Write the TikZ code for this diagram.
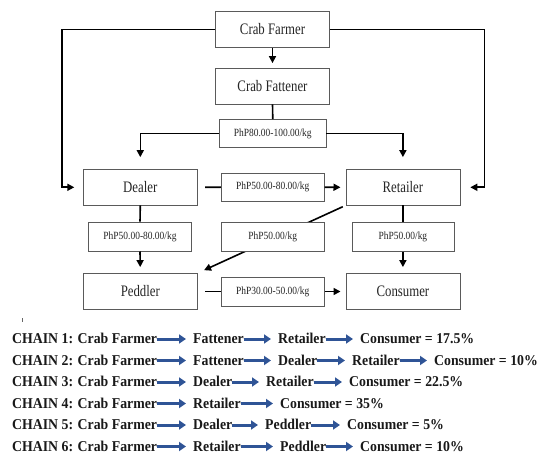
\documentclass[tikz,border=0pt]{standalone}
\usepackage{fontspec}
\setmainfont{Liberation Serif}
\newfontfamily\boxfont[FakeStretch=0.8]{Liberation Serif}
\newfontfamily\pricefont[FakeStretch=0.86]{Liberation Serif}
\newfontfamily\chainfont[FakeStretch=0.92]{Liberation Serif}
\usetikzlibrary{arrows.meta,calc}
\definecolor{boxgray}{RGB}{90,90,90}
\definecolor{chainblue}{RGB}{47,84,150}
\tikzset{
  mainbox/.style={draw=boxgray, line width=0.8pt, fill=white, minimum width=114pt, minimum height=35.5pt, inner sep=0pt, font=\boxfont\fontsize{16}{18}\selectfont, text=black!85},
  pricebox/.style={draw=boxgray, line width=0.8pt, fill=white, minimum width=103pt, minimum height=29pt, inner sep=0pt, font=\pricefont\fontsize{11}{13}\selectfont, text=black!85},
  conn/.style={draw=black, line width=1.6pt},
  arr/.style={conn, -{Triangle[length=7pt,width=7pt]}},
  chain/.style={anchor=base west, inner sep=0pt, font=\chainfont\bfseries\fontsize{15}{18}\selectfont, text=black!90},
  chainarr/.style={draw=chainblue, line width=3pt, -{Triangle[length=7pt,width=9pt]}, shorten >=7pt}
}
\begin{document}
\begin{tikzpicture}[x=1pt,y=-1pt]
\useasboundingbox (0,0) rectangle (538,457);
% main boxes
\node[mainbox] (farmer) at (272.5,29.5) {Crab Farmer};
\node[mainbox, minimum height=36pt] (fattener) at (272.5,86) {Crab Fattener};
\node[mainbox] (dealer) at (140.3,187.3) {Dealer};
\node[mainbox] (retailer) at (402.9,187.3) {Retailer};
\node[mainbox, minimum height=36pt] (peddler) at (140.3,291.5) {Peddler};
\node[mainbox, minimum height=36pt] (consumer) at (402.9,291.5) {Consumer};
% diagonal behind middle price box
\draw[arr, shorten <=3pt, shorten >=7pt] (retailer.south west) -- (peddler.north east);
% price boxes
\node[pricebox, minimum width=106.4pt, minimum height=28pt] (ptop) at (272.8,133.5) {PhP80.00-100.00/kg};
\node[pricebox, minimum height=28.5pt] (pdr) at (272.7,187.2) {PhP50.00-80.00/kg};
\node[pricebox] (pd) at (140,236.6) {PhP50.00-80.00/kg};
\node[pricebox] (pmid) at (272.7,236.6) {PhP50.00/kg};
\node[pricebox, minimum width=102pt] (pr) at (402.9,236.6) {PhP50.00/kg};
\node[pricebox] (ppc) at (272.7,291.5) {PhP30.00-50.00/kg};
% connectors
\draw[arr, shorten >=4.5pt] (farmer.south) -- (fattener.north);
\draw[conn] (fattener.south) -- (ptop.north);
\draw[arr, shorten >=12pt] (ptop.west) -| (dealer.north);
\draw[arr, shorten >=12pt] (ptop.east) -| (retailer.north);
\coordinate (lc) at (61.8,187.3);
\coordinate (rc) at (484.5,187.3);
\draw[arr, shorten >=8.6pt] (farmer.west) -| (lc) -- (dealer.west);
\draw[arr, shorten >=10pt] (farmer.east) -| (rc) -- (retailer.east);
\draw[conn, shorten <=7.5pt] (dealer.east) -- (pdr.west);
\draw[arr, shorten >=5pt] (pdr.east) -- (retailer.west);
\draw[conn] (dealer.south) -- (pd.north);
\draw[arr, shorten >=6pt] (pd.south) -- (peddler.north);
\draw[conn] (retailer.south) -- (pr.north);
\draw[arr, shorten >=6pt] (pr.south) -- (consumer.north);
\draw[conn, shorten <=7.5pt] (peddler.east) -- (ppc.west);
\draw[arr, shorten >=5pt] (ppc.east) -- (consumer.west);
% stray tick
\draw[black!60, line width=1pt] (22.5,318) -- (22.5,322);
% chains
\node[chain] (c1a) at (12,343.5) {CHAIN 1: Crab Farmer};
\node[chain] (c1b) at (193,343.5) {Fattener};
\node[chain] (c1c) at (278,343.5) {Retailer};
\node[chain] (c1d) at (360,343.5) {Consumer = 17.5\%};
\node[chain] (c2a) at (12,365) {CHAIN 2: Crab Farmer};
\node[chain] (c2b) at (193,365) {Fattener};
\node[chain] (c2c) at (278,365) {Dealer};
\node[chain] (c2d) at (352,365) {Retailer};
\node[chain] (c2e) at (434,365) {Consumer = 10\%};
\node[chain] (c3a) at (12,386.5) {CHAIN 3: Crab Farmer};
\node[chain] (c3b) at (193,386.5) {Dealer};
\node[chain] (c3c) at (266,386.5) {Retailer};
\node[chain] (c3d) at (349,386.5) {Consumer = 22.5\%};
\node[chain] (c4a) at (12,408) {CHAIN 4: Crab Farmer};
\node[chain] (c4b) at (193,408) {Retailer};
\node[chain] (c4c) at (280,408) {Consumer = 35\%};
\node[chain] (c5a) at (12,429.5) {CHAIN 5: Crab Farmer};
\node[chain] (c5b) at (193,429.5) {Dealer};
\node[chain] (c5c) at (265,429.5) {Peddler};
\node[chain] (c5d) at (347,429.5) {Consumer = 5\%};
\node[chain] (c6a) at (12,451) {CHAIN 6: Crab Farmer};
\node[chain] (c6b) at (193,451) {Retailer};
\node[chain] (c6c) at (280,451) {Peddler};
\node[chain] (c6d) at (360,451) {Consumer = 10\%};
\foreach \a/\b in {c1a/c1b,c1b/c1c,c1c/c1d,c2a/c2b,c2b/c2c,c2c/c2d,c2d/c2e,c3a/c3b,c3b/c3c,c3c/c3d,c4a/c4b,c4b/c4c,c5a/c5b,c5b/c5c,c5c/c5d,c6a/c6b,c6b/c6c,c6c/c6d}
  \draw[chainarr] ([yshift=4.5pt]\a.base east) -- ([yshift=4.5pt]\b.base west);
\end{tikzpicture}
\end{document}
